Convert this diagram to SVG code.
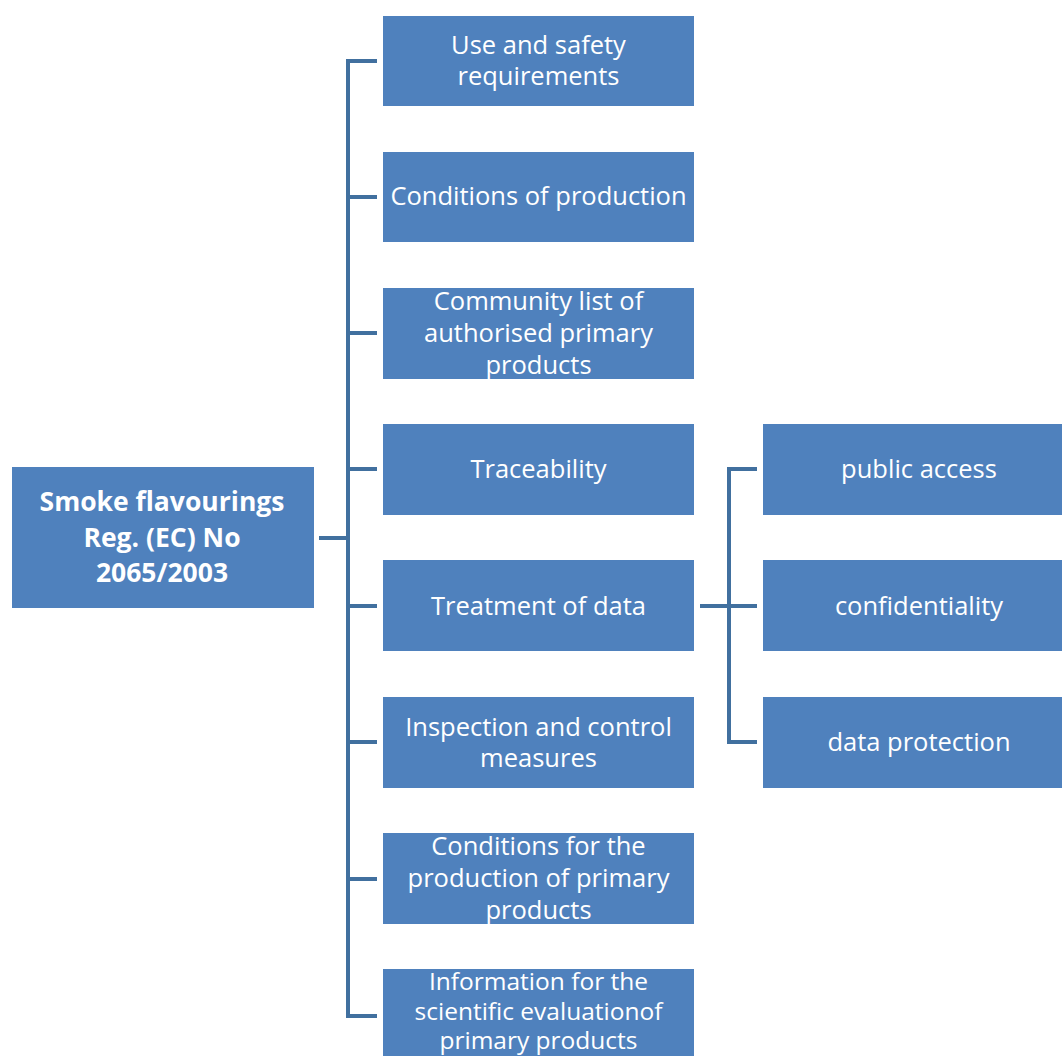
<svg xmlns="http://www.w3.org/2000/svg" width="1062" height="1056" viewBox="0 0 1062 1056">
<style>
.box{fill:#4F81BD;}
.t{font-family:"Open Sans","Liberation Sans",sans-serif;font-size:25.5px;fill:#FFFFFF;text-anchor:middle;}
.ts{font-size:24.5px;}
.tb{font-family:"Open Sans","Liberation Sans",sans-serif;font-size:26.5px;font-weight:bold;fill:#FFFFFF;text-anchor:middle;}
.c{fill:none;stroke:#41709F;stroke-width:4;}
</style>
<rect width="1062" height="1056" fill="#FFFFFF"/>
<g id="connectors">
<path class="c" d="M319 538H348M377 61H348V1016H377M348 197H377M348 333H377M348 469H377M348 606H377M348 742H377M348 879H377"/>
<path class="c" d="M700 606H757M757 469H729V742H757"/>
</g>
<g id="root"><rect class="box" x="12" y="467" width="302" height="141"/>
<text class="tb" x="162" y="511">Smoke flavourings</text><text class="tb" x="162" y="547">Reg. (EC) No</text><text class="tb" x="162" y="582">2065/2003</text></g>
<g id="n1"><rect class="box" x="383" y="16" width="311" height="90"/><text class="t" x="538.5" y="54">Use and safety</text><text class="t" x="538.5" y="85">requirements</text></g>
<g id="n2"><rect class="box" x="383" y="152" width="311" height="90"/><text class="t" x="538.5" y="205">Conditions of production</text></g>
<g id="n3"><rect class="box" x="383" y="288" width="311" height="91"/><text class="t" x="538.5" y="310">Community list of</text><text class="t" x="538.5" y="342">authorised primary</text><text class="t" x="538.5" y="374">products</text></g>
<g id="n4"><rect class="box" x="383" y="424" width="311" height="91"/><text class="t" x="538.5" y="478">Traceability</text></g>
<g id="n5"><rect class="box" x="383" y="560" width="311" height="91"/><text class="t" x="538.5" y="615">Treatment of data</text></g>
<g id="n6"><rect class="box" x="383" y="697" width="311" height="91"/><text class="t" x="538.5" y="736">Inspection and control</text><text class="t" x="538.5" y="767">measures</text></g>
<g id="n7"><rect class="box" x="383" y="833" width="311" height="91"/><text class="t" x="538.5" y="855">Conditions for the</text><text class="t" x="538.5" y="887">production of primary</text><text class="t" x="538.5" y="919">products</text></g>
<g id="n8"><rect class="box" x="383" y="969" width="311" height="91"/><text class="t ts" x="538.5" y="990">Information for the</text><text class="t ts" x="538.5" y="1020">scientific evaluationof</text><text class="t ts" x="538.5" y="1049">primary products</text></g>
<g id="r1"><rect class="box" x="763" y="424" width="299" height="91"/><text class="t" x="919" y="478">public access</text></g>
<g id="r2"><rect class="box" x="763" y="560" width="299" height="91"/><text class="t" x="919" y="615">confidentiality</text></g>
<g id="r3"><rect class="box" x="763" y="697" width="299" height="91"/><text class="t" x="919" y="751">data protection</text></g>
</svg>
